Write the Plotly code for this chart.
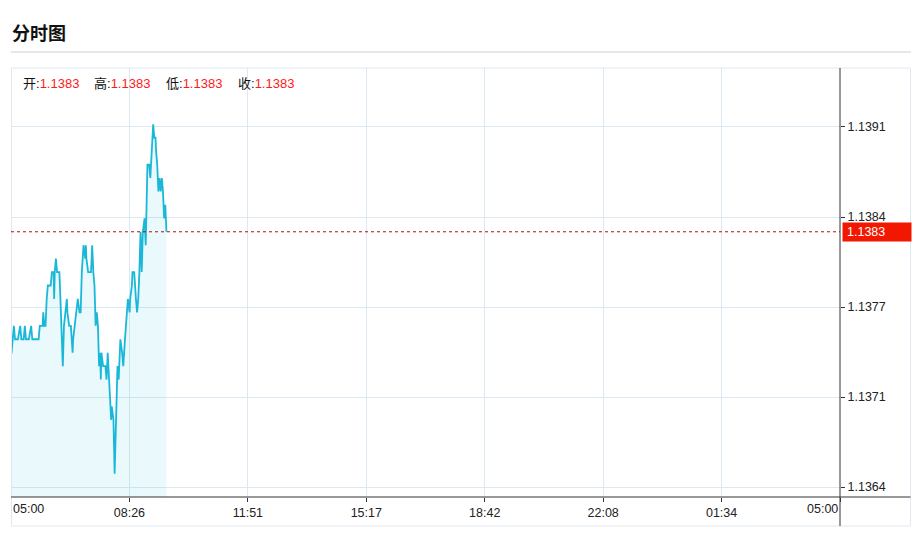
import pandas as pd
import plotly.graph_objects as go

# ---------------- data ----------------
session_start = "2021-06-18 05:00"
minutes_from_open = [0, 1, 3, 5, 7, 10, 12, 16, 18, 22, 24, 26, 31, 35, 37, 48, 50, 55, 56, 58,
                     60, 62, 64, 69, 71, 74, 75, 76, 78, 80, 84, 85, 88, 90, 92, 94, 97, 98, 101, 104,
                     107, 108, 111, 113, 116, 119, 121, 123, 126, 129, 130, 131, 134, 139, 141, 143, 145, 147, 149, 151,
                     153, 155, 156, 157, 160, 164, 166, 168, 170, 172, 174, 175, 178, 180, 182, 185, 187, 188, 190, 193,
                     195, 198, 200, 202, 203, 206, 207, 210, 211, 214, 215, 217, 219, 221, 223, 225, 227, 229, 232, 234,
                     237, 240, 242, 245, 247, 249, 251, 252, 254, 256, 258, 260, 262, 264, 266, 268, 270]
price = [1.1374, 1.1374, 1.1375, 1.1376, 1.1375, 1.1375, 1.1375, 1.1376, 1.1375, 1.1375, 1.1376, 1.1375, 1.1375, 1.1376, 1.1375, 1.1375, 1.1376, 1.1376, 1.1377, 1.1376,
         1.1376, 1.1378, 1.1379, 1.1379, 1.1380, 1.1380, 1.1378, 1.1380, 1.1381, 1.1380, 1.1380, 1.1379, 1.1376, 1.1373, 1.1376, 1.1377, 1.1378, 1.1377, 1.1376, 1.1376,
         1.1374, 1.1375, 1.1376, 1.1377, 1.1378, 1.1377, 1.1377, 1.1380, 1.1382, 1.1381, 1.1382, 1.1381, 1.1380, 1.1380, 1.1382, 1.1380, 1.1379, 1.1376, 1.1377, 1.1376,
         1.1373, 1.1374, 1.1372, 1.1374, 1.1373, 1.1373, 1.1372, 1.1374, 1.1372, 1.1370, 1.1369, 1.1370, 1.1369, 1.1365, 1.1369, 1.1373, 1.1372, 1.1373, 1.1375, 1.1374,
         1.1373, 1.1375, 1.1376, 1.1377, 1.1378, 1.1377, 1.1378, 1.1379, 1.1380, 1.1380, 1.1379, 1.1378, 1.1377, 1.1378, 1.1380, 1.1383, 1.1380, 1.1383, 1.1384, 1.1382,
         1.1388, 1.1388, 1.1387, 1.1390, 1.1391, 1.1390, 1.1390, 1.1389, 1.1388, 1.1386, 1.1387, 1.1386, 1.1387, 1.1386, 1.1384, 1.1385, 1.1383]

ohlc_labels = ["开", "高", "低", "收"]
ohlc_values = ["1.1383", "1.1383", "1.1383", "1.1383"]
last_price = 1.1383

x_tick_labels = ["05:00", "08:26", "11:51", "15:17", "18:42", "22:08", "01:34", "05:00"]
y_tick_values = [1.13640, 1.13707, 1.13774, 1.13841, 1.13908]
y_tick_labels = ["1.1364", "1.1371", "1.1377", "1.1384", "1.1391"]
y_range = [1.136326, 1.139519]
session_minutes = 1440

# ---------------- figure ----------------
start = pd.Timestamp(session_start)
times = start + pd.to_timedelta(minutes_from_open, unit="m")
n_div = len(x_tick_labels) - 1
x_ticks = [start + pd.Timedelta(minutes=session_minutes * k / n_div) for k in range(n_div + 1)]
x_end = start + pd.Timedelta(minutes=session_minutes)

LINE = "#1ab8d8"
GRID = "#dde9f2"
AXIS = "#333333"
FONT = "Liberation Sans, Noto Sans CJK SC, sans-serif"

fig = go.Figure()
fig.add_trace(go.Scatter(
    x=times, y=price, mode="lines",
    line=dict(color=LINE, width=1.8),
    fill="tozeroy", fillcolor="rgba(26,184,216,0.09)",
    hoverinfo="skip", showlegend=False,
))

W, H = 923, 547
L, R, T, B = 11, 83, 68, 50
pw, ph = W - L - R, H - T - B


def px_x(p):
    return (p - L) / pw


def px_y(p):
    return (H - B - p) / ph


fig.update_layout(
    width=W, height=H, autosize=False,
    margin=dict(l=L, r=R, t=T, b=B),
    paper_bgcolor="white", plot_bgcolor="white",
    font=dict(family=FONT, size=12, color="#222"),
    showlegend=False,
    xaxis=dict(
        type="date", range=[start, x_end],
        tickvals=x_ticks, ticktext=[""] + x_tick_labels[1:-1] + [""],
        showgrid=True, gridcolor=GRID, gridwidth=1,
        ticks="outside", ticklen=4, tickcolor=AXIS,
        showline=False, zeroline=False,
        tickfont=dict(size=12.5, color="#222", family=FONT),
        fixedrange=True,
    ),
    yaxis=dict(
        side="right", range=y_range,
        tickvals=y_tick_values, ticktext=y_tick_labels,
        showgrid=True, gridcolor=GRID, gridwidth=1,
        ticks="outside", ticklen=4, tickcolor=AXIS,
        showline=False, zeroline=False,
        tickfont=dict(size=12.5, color="#222", family=FONT),
        fixedrange=True,
    ),
)

shapes = [
    # separator under the title
    dict(type="line", xref="paper", yref="paper", x0=px_x(11), x1=px_x(911), y0=px_y(52), y1=px_y(52),
         line=dict(color="#cfcfcf", width=1)),
    # chart frame
    dict(type="rect", xref="paper", yref="paper", x0=px_x(11.5), x1=px_x(910.5), y0=px_y(526), y1=px_y(68),
         line=dict(color="#e1e7ee", width=1)),
    # right price axis line
    dict(type="line", xref="paper", yref="paper", x0=1, x1=1, y0=px_y(526), y1=1,
         line=dict(color=AXIS, width=1)),
    # time axis line
    dict(type="line", xref="paper", yref="paper", x0=0, x1=px_x(910.5), y0=0, y1=0,
         line=dict(color=AXIS, width=1)),
    # last price dotted line
    dict(type="line", xref="paper", yref="y", x0=0, x1=1, y0=last_price, y1=last_price,
         line=dict(color="#a31515", width=1, dash="dot")),
]
fig.update_layout(shapes=shapes)

annotations = [
    dict(text="<b>分时图</b>", xref="paper", yref="paper", x=px_x(10), y=px_y(32),
         xanchor="left", yanchor="middle", showarrow=False,
         font=dict(size=18, color="#111", family="Noto Sans CJK SC, sans-serif")),
    dict(text=x_tick_labels[0], xref="x", yref="paper", x=start, y=px_y(509),
         xanchor="left", yanchor="middle", showarrow=False, font=dict(size=12.5, color="#222")),
    dict(text=x_tick_labels[-1], xref="x", yref="paper", x=x_end, y=px_y(509),
         xanchor="right", yanchor="middle", showarrow=False, font=dict(size=12.5, color="#222")),
    dict(text=f"{last_price:.4f}", xref="paper", yref="y", x=px_x(842), y=last_price,
         xanchor="left", yanchor="middle", showarrow=False, align="left",
         width=60, height=10, borderpad=4, bgcolor="#f21700",
         font=dict(size=12.5, color="white")),
]
label_px = [21, 92, 164, 236]
for lab, val, p in zip(ohlc_labels, ohlc_values, label_px):
    annotations.append(dict(
        text=f"{lab}:<span style='color:#ff1a1a'>{val}</span>",
        xref="paper", yref="paper", x=px_x(p), y=px_y(84),
        xanchor="left", yanchor="middle", showarrow=False,
        font=dict(size=13, color="#111", family=FONT),
    ))
fig.update_layout(annotations=annotations)

fig.write_html(
    "out.html",
    config={"displayModeBar": False},
    post_script="document.body.style.margin='0';document.body.style.overflow='hidden';",
)
